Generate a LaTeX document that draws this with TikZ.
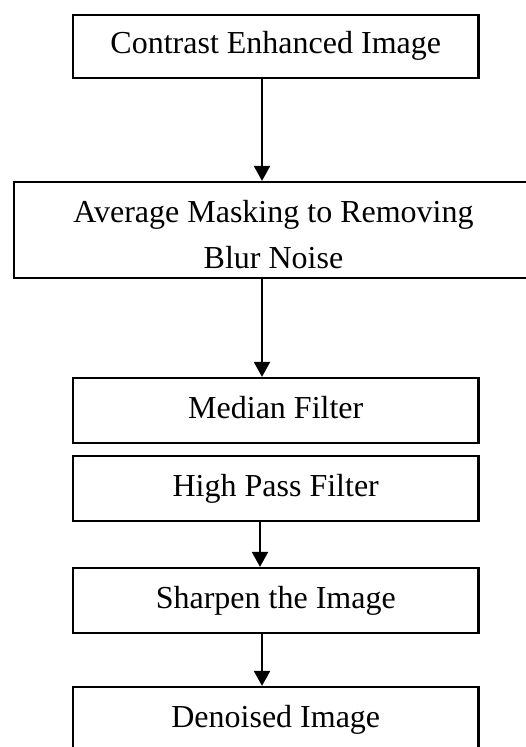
\documentclass[tikz,border=0pt]{standalone}
\usepackage{fontspec}
\setmainfont{Liberation Serif}
\usetikzlibrary{arrows.meta}
\begin{document}
\begin{tikzpicture}[x=0.5pt,y=-0.5pt,
  stagebox/.style={draw=black, line width=1.1pt, rectangle, inner sep=0pt},
  stagetext/.style={font=\fontsize{16}{23}\selectfont, align=center, inner sep=0pt},
  oneline/.style={stagebox, stagetext, text height=11pt, text depth=3.5pt,
    minimum width=202.75pt, minimum height=32.5pt},
  flow/.style={line width=1.1pt, -{Triangle[length=7.5pt,width=8pt]}}]
  % page frame
  \useasboundingbox (0,0) rectangle (525,747);
  % processing stages
  \node[oneline, minimum height=31.5pt] (contrast) at (275.75,46.5) {Contrast Enhanced Image};
  \node[stagebox, minimum width=259.5pt, minimum height=48pt] (average) at (273.5,230) {};
  \node[stagetext] (averagetext) at (273.5,235) {Average Masking to Removing\\Blur Noise};
  \node[oneline] (median) at (275.75,410.5) {Median Filter};
  \node[oneline] (highpass) at (275.75,488.5) {High Pass Filter};
  \node[oneline] (sharpen) at (275.75,600.5) {Sharpen the Image};
  \node[oneline] (denoised) at (275.75,719.5) {Denoised Image};
  % connector columns
  \coordinate (colA) at (262,0);
  \coordinate (colB) at (260,0);
  % connectors
  \draw[flow] (contrast.south -| colA) -- (average.north -| colA);
  \draw[flow] (average.south -| colA) -- (median.north -| colA);
  \draw[flow] (highpass.south -| colB) -- (sharpen.north -| colB);
  \draw[flow] (sharpen.south -| colA) -- (denoised.north -| colA);
\end{tikzpicture}
\end{document}
